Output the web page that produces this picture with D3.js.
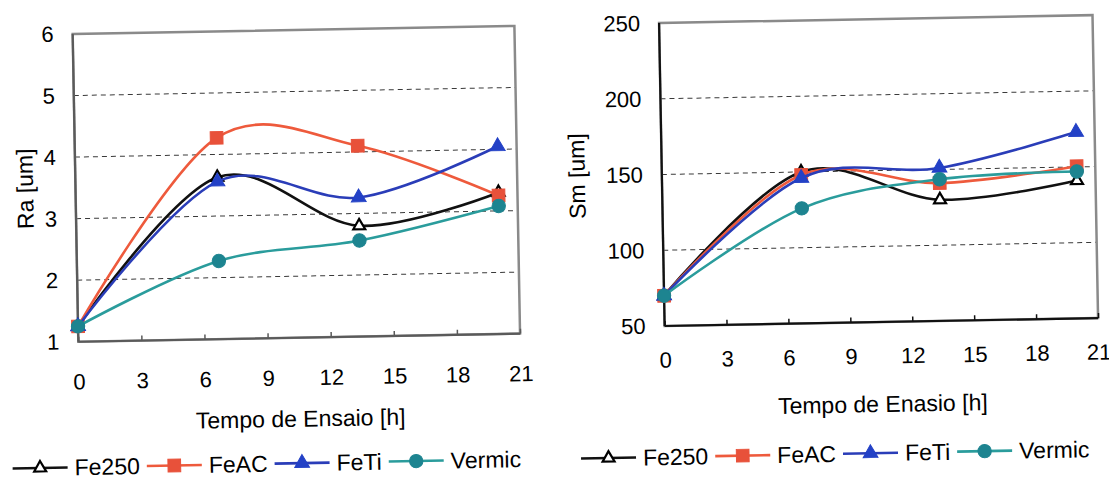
<!DOCTYPE html>
<html>
<head>
<meta charset="utf-8">
<script src="https://cdn.jsdelivr.net/npm/d3@7"></script>
<style>
  html, body { margin: 0; padding: 0; background: #fff; }
  svg { display: block; font-family: "Liberation Sans", Arial, sans-serif; }
</style>
</head>
<body>
<svg id="chart" width="1109" height="477"></svg>
<script>
// Test duration [h] at which each sample was measured
const hours = [0, 6.75, 13.45, 20.1];
const xTicks = [0, 3, 6, 9, 12, 15, 18, 21];
const seriesNames = ["Fe250", "FeAC", "FeTi", "Vermic"];

// Ra roughness [um]
const raFe250 = [1.25, 3.63, 2.8, 3.3];
const raFeAC = [1.25, 4.27, 4.1, 3.25];
const raFeTi = [1.25, 3.56, 3.26, 4.05];
const raVermic = [1.25, 2.27, 2.56, 3.08];
const raTicks = [1, 2, 3, 4, 5, 6];

// Sm spacing [um]
const smFe250 = [70, 150, 130, 141];
const smFeAC = [70, 148, 141, 150.5];
const smFeTi = [70, 146, 151, 173];
const smVermic = [70, 126, 143.5, 147];
const smTicks = [50, 100, 150, 200, 250];

const style = {
  Fe250:  { line: "#111111", fill: "#ffffff", stroke: "#000000", shape: "triangle", size: 62 },
  FeAC:   { line: "#ee5a3c", fill: "#e8513a", stroke: "#e8513a", shape: "square",   size: 160 },
  FeTi:   { line: "#2a3db8", fill: "#2341c6", stroke: "#2341c6", shape: "triangle", size: 95 },
  Vermic: { line: "#2a9c9c", fill: "#1d8490", stroke: "#1d8490", shape: "circle",   size: 140 }
};
const symType = { triangle: d3.symbolTriangle, square: d3.symbolSquare, circle: d3.symbolCircle };

const svg = d3.select("#chart");
svg.append("rect").attr("width", 1109).attr("height", 477).attr("fill", "#fff");
// the whole figure sits slightly askew
const root = svg.append("g").attr("transform", "rotate(-1.05 554.5 238.5)");

function drawMarker(g, name, cx, cy) {
  const s = style[name];
  g.append("path")
    .attr("d", d3.symbol().type(symType[s.shape]).size(s.size)())
    .attr("transform", `translate(${cx},${cy})`)
    .attr("fill", s.fill)
    .attr("stroke", s.stroke)
    .attr("stroke-width", name === "Fe250" ? 2.2 : 1);
}

function panel(cfg) {
  const g = root.append("g");
  const x = d3.scaleLinear().domain([0, 21]).range([cfg.x0, cfg.x1]);
  const y = d3.scaleLinear().domain([cfg.ticks[0], cfg.ticks[cfg.ticks.length - 1]]).range([cfg.y1, cfg.y0]);

  // dashed horizontal gridlines
  g.append("g").selectAll("line")
    .data(cfg.ticks.slice(1, -1))
    .join("line")
    .attr("x1", cfg.x0).attr("x2", cfg.x1)
    .attr("y1", d => y(d)).attr("y2", d => y(d))
    .attr("stroke", "#3a3a3a").attr("stroke-width", 1)
    .attr("stroke-dasharray", "5,4");

  // plot frame
  g.append("rect")
    .attr("x", cfg.x0).attr("y", cfg.y0)
    .attr("width", cfg.x1 - cfg.x0).attr("height", cfg.y1 - cfg.y0)
    .attr("fill", "none").attr("stroke", "#8a8a8a").attr("stroke-width", 2.5);

  // x axis with inward ticks
  const xa = g.append("g").attr("transform", `translate(0,${cfg.y1})`)
    .call(d3.axisBottom(x).tickValues(xTicks).tickFormat(d3.format("d"))
      .tickSizeInner(-5).tickSizeOuter(0).tickPadding(cfg.xPad));
  xa.select(".domain").remove();
  xa.selectAll("line").attr("stroke", cfg.axisColor).attr("stroke-width", 1.5);
  xa.selectAll("text").attr("font-size", 22).attr("fill", "#000")
    .attr("font-family", '"Liberation Sans", Arial, sans-serif');

  // y axis
  const ya = g.append("g").attr("transform", `translate(${cfg.x0},0)`)
    .call(d3.axisLeft(y).tickValues(cfg.ticks).tickFormat(d3.format("d"))
      .tickSize(0).tickPadding(19));
  ya.select(".domain").remove();
  ya.selectAll("text").attr("font-size", 22).attr("fill", "#000")
    .attr("font-family", '"Liberation Sans", Arial, sans-serif');

  // axis lines
  g.append("line").attr("x1", cfg.x0).attr("x2", cfg.x0).attr("y1", cfg.y0).attr("y2", cfg.y1)
    .attr("stroke", cfg.axisColor).attr("stroke-width", 2.2);
  g.append("line").attr("x1", cfg.x0).attr("x2", cfg.x1).attr("y1", cfg.y1).attr("y2", cfg.y1)
    .attr("stroke", cfg.axisColor).attr("stroke-width", 2.2);

  // axis titles
  g.append("text")
    .attr("transform", `translate(${cfg.yTitleX},${(cfg.y0 + cfg.y1) / 2}) rotate(-90)`)
    .attr("text-anchor", "middle").attr("dominant-baseline", "central")
    .attr("font-size", 23).attr("fill", "#000").text(cfg.yTitle);
  g.append("text")
    .attr("x", (cfg.x0 + cfg.x1) / 2).attr("y", cfg.xTitleY)
    .attr("text-anchor", "middle").attr("dominant-baseline", "central")
    .attr("font-size", 23).attr("fill", "#000").text(cfg.xTitle);

  // smoothed series with markers
  const line = d3.line().curve(d3.curveCardinal.tension(0))
    .x(d => x(d[0])).y(d => y(d[1]));
  seriesNames.forEach(name => {
    const pts = hours.map((h, i) => [h, cfg.series[name][i]]);
    g.append("path").attr("d", line(pts))
      .attr("fill", "none").attr("stroke", style[name].line)
      .attr("stroke-width", 2.6).attr("stroke-linejoin", "round");
    pts.forEach(p => drawMarker(g, name, x(p[0]), y(p[1])));
  });

  // legend row
  const lg = g.append("g");
  let cx = cfg.legendX;
  seriesNames.forEach(name => {
    lg.append("line").attr("x1", cx).attr("x2", cx + 55).attr("y1", cfg.legendY).attr("y2", cfg.legendY)
      .attr("stroke", style[name].line).attr("stroke-width", 2.6);
    drawMarker(lg, name, cx + 27.5, cfg.legendY);
    const t = lg.append("text").attr("x", cx + 62).attr("y", cfg.legendY)
      .attr("dominant-baseline", "central").attr("font-size", 23).attr("fill", "#000").text(name);
    cx += 62 + t.node().getComputedTextLength() + 7;
  });
}

panel({
  x0: 76.5, x1: 518.3, y0: 25.2, y1: 333,
  ticks: raTicks, xPad: 32, axisColor: "#5a5a5a",
  series: { Fe250: raFe250, FeAC: raFeAC, FeTi: raFeTi, Vermic: raVermic },
  yTitle: "Ra [um]", yTitleX: 26,
  xTitle: "Tempo de Ensaio [h]", xTitleY: 414,
  legendX: 8.5, legendY: 458.5
});

panel({
  x0: 663, x1: 1096.5, y0: 25, y1: 328,
  ticks: smTicks, xPad: 26, axisColor: "#111",
  series: { Fe250: smFe250, FeAC: smFeAC, FeTi: smFeTi, Vermic: smVermic },
  yTitle: "Sm [um]", yTitleX: 578,
  xTitle: "Tempo de Enasio [h]", xTitleY: 410,
  legendX: 577, legendY: 459
});
</script>
</body>
</html>
